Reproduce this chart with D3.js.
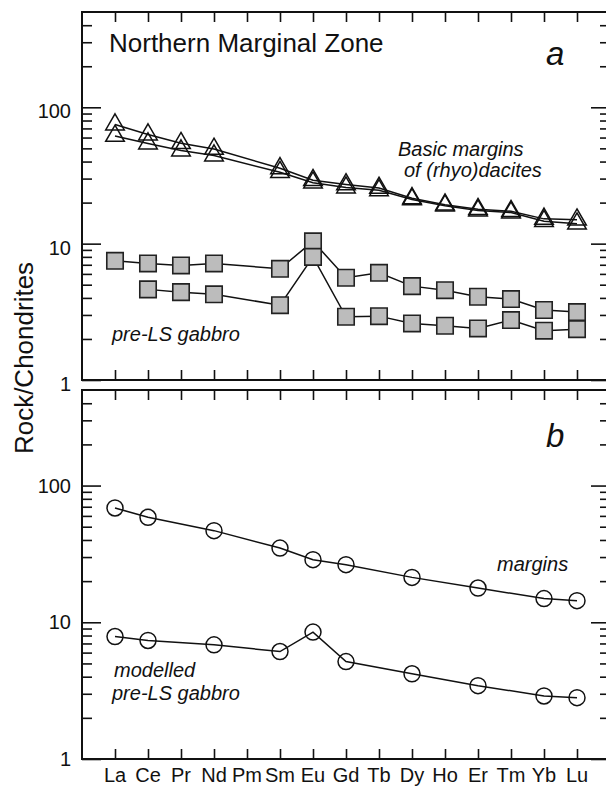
<!DOCTYPE html>
<html><head><meta charset="utf-8">
<script src="https://cdn.jsdelivr.net/npm/d3@7"></script>
<style>
body{margin:0;background:#fff}
svg{display:block}
text{font-family:"Liberation Sans",Arial,sans-serif;fill:#111}
</style>
</head><body>
<svg id="c" width="606" height="787"></svg>
<script>
// ---- data ----
const elements = ["La","Ce","Pr","Nd","Pm","Sm","Eu","Gd","Tb","Dy","Ho","Er","Tm","Yb","Lu"];
// panel a: basic margins of (rhyo)dacites (triangles)
const marginsA1 = [74.7,63.1,54.5,49.5,null,35.7,29.2,27.2,25.6,21.5,19.3,17.9,17.3,15.2,15.0];
const marginsA2 = [61.6,54.2,48.2,44.3,null,33.4,28.0,25.8,24.6,21.1,19.0,17.5,16.9,14.6,14.0];
// panel a: pre-LS gabbro (squares)
const gabbroA1 = [7.48,7.16,6.92,7.16,null,6.54,10.4,5.62,6.11,4.88,4.56,4.08,3.92,3.26,3.15];
const gabbroA2 = [null,4.62,4.41,4.25,null,3.54,8.0,2.91,2.94,2.60,2.50,2.39,2.75,2.30,2.36];
// panel b: margins and modelled pre-LS gabbro (circles)
const marginsB = [68.6,58.6,null,46.8,null,34.9,28.7,26.4,null,21.3,null,17.8,null,14.9,14.4];
const modelledB = [7.87,7.36,null,6.84,null,6.11,8.48,5.16,null,4.20,null,3.44,null,2.89,2.81];
// axis ticks
const majorTicks = [1,10,100];
const majorTickLabels = ["1","10","100"];
const minorTicks = [2,3,4,5,6,7,8,9,20,30,40,50,60,70,80,90,200,300,400];

// ---- drawing ----
const svg = d3.select("#c");
const L = 82, R = 610;
const x = d3.scalePoint().domain(elements).range([115, 577]);
const panels = [
  {top:12, bottom:380, labelDy:4},
  {top:390, bottom:759, labelDy:0}
];
const ink = "#111";

panels.forEach((p, i) => {
  p.y = d3.scaleLog().domain([1,500]).range([p.bottom, p.top]);
  const g = svg.append("g");
  const strip = s => s.call(a => a.select(".domain").remove())
                      .call(a => a.selectAll("line").attr("stroke", ink).attr("stroke-width", 1.6));
  // y ticks left (inward)
  g.append("g").attr("transform", `translate(${L},0)`)
    .call(d3.axisRight(p.y).tickValues(minorTicks).tickSize(10).tickFormat("")).call(strip);
  g.append("g").attr("transform", `translate(${L},0)`)
    .call(d3.axisRight(p.y).tickValues(majorTicks).tickSize(19).tickFormat("")).call(strip);
  // y ticks right (inward)
  g.append("g").attr("transform", `translate(${R},0)`)
    .call(d3.axisLeft(p.y).tickValues(minorTicks).tickSize(10).tickFormat("")).call(strip);
  g.append("g").attr("transform", `translate(${R},0)`)
    .call(d3.axisLeft(p.y).tickValues(majorTicks).tickSize(19).tickFormat("")).call(strip);
  // x ticks top and bottom (inward)
  g.append("g").attr("transform", `translate(0,${p.top})`)
    .call(d3.axisBottom(x).tickSize(10).tickFormat("")).call(strip);
  g.append("g").attr("transform", `translate(0,${p.bottom})`)
    .call(d3.axisBottom(x).tickSize(-10).tickFormat("")).call(strip);
  // frame
  g.append("rect").attr("x", L).attr("y", p.top).attr("width", R - L).attr("height", p.bottom - p.top)
    .attr("fill", "none").attr("stroke", ink).attr("stroke-width", 2);
  // y tick labels
  g.selectAll("text.yl").data(majorTicks).join("text")
    .attr("x", 71).attr("y", d => p.y(d) + p.labelDy)
    .attr("dy", "0.35em").attr("text-anchor", "end").attr("font-size", 20)
    .text((d, k) => majorTickLabels[k]);
});

// x tick labels
svg.append("g").selectAll("text").data(elements).join("text")
  .attr("x", d => x(d)).attr("y", 782).attr("text-anchor", "middle").attr("font-size", 20)
  .text(d => d);

function series(vals, y) {
  return elements.map((e, i) => ({e, v: vals[i]})).filter(d => d.v != null)
    .map(d => ({x: x(d.e), y: y(d.v)}));
}
function drawLine(pts) {
  svg.append("path").datum(pts)
    .attr("d", d3.line().x(d => d.x).y(d => d.y))
    .attr("fill", "none").attr("stroke", ink).attr("stroke-width", 1.5);
}
const yA = panels[0].y, yB = panels[1].y;

// panel a triangles
const triSets = [marginsA1, marginsA2].map(s => series(s, yA));
triSets.forEach(drawLine);
triSets.forEach(pts => {
  svg.append("g").selectAll("path").data(pts).join("path")
    .attr("transform", d => `translate(${d.x},${d.y})`)
    .attr("d", d3.symbol(d3.symbolTriangle, 150))
    .attr("fill", "none").attr("stroke", ink).attr("stroke-width", 1.5);
});
// panel a squares
const sqSets = [gabbroA1, gabbroA2].map(s => series(s, yA));
sqSets.forEach(drawLine);
sqSets.forEach(pts => {
  svg.append("g").selectAll("path").data(pts).join("path")
    .attr("transform", d => `translate(${d.x},${d.y})`)
    .attr("d", d3.symbol(d3.symbolSquare, 270))
    .attr("fill", "#bcbcbc").attr("stroke", "#222").attr("stroke-width", 1.6);
});
// panel b circles
const cSets = [marginsB, modelledB].map(s => series(s, yB));
cSets.forEach(drawLine);
cSets.forEach(pts => {
  svg.append("g").selectAll("circle").data(pts).join("circle")
    .attr("cx", d => d.x).attr("cy", d => d.y).attr("r", 8)
    .attr("fill", "none").attr("stroke", ink).attr("stroke-width", 1.5);
});

// annotations
const ann = [
  {t:"Northern Marginal Zone", x:109, y:52, s:26, it:false},
  {t:"a", x:546, y:65, s:33, it:true},
  {t:"b", x:546, y:447, s:33, it:true},
  {t:"Basic margins", x:398, y:156, s:20, it:true},
  {t:"of (rhyo)dacites", x:404, y:177, s:20, it:true},
  {t:"pre-LS gabbro", x:112, y:341, s:20, it:true},
  {t:"margins", x:497, y:571, s:20, it:true},
  {t:"modelled", x:114, y:677, s:20, it:true},
  {t:"pre-LS gabbro", x:112, y:700, s:20, it:true}
];
svg.append("g").selectAll("text").data(ann).join("text")
  .attr("x", d => d.x).attr("y", d => d.y).attr("font-size", d => d.s)
  .attr("font-style", d => d.it ? "italic" : "normal").text(d => d.t);

svg.append("text").attr("transform", "translate(33,358) rotate(-90)")
  .attr("text-anchor", "middle").attr("font-size", 26).text("Rock/Chondrites");
</script>
</body></html>
